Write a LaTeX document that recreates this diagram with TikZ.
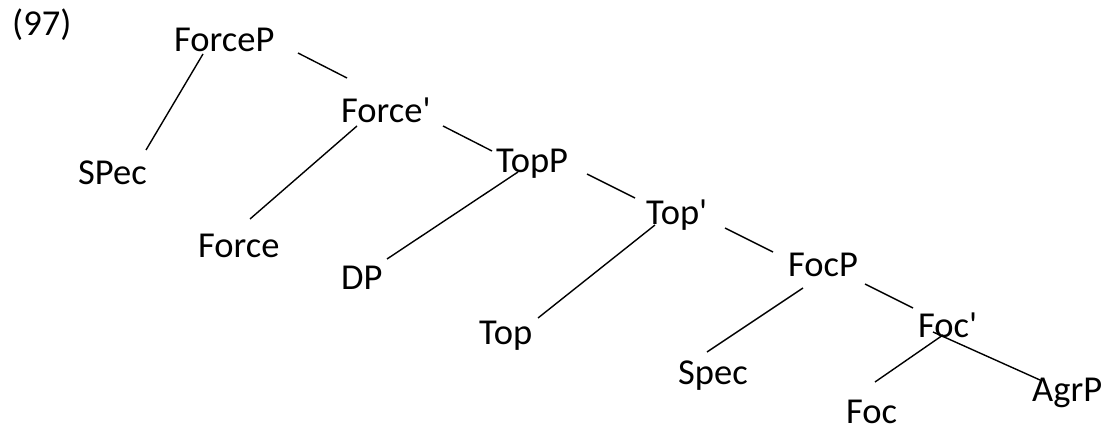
\documentclass[tikz,border=0pt]{standalone}
\usepackage{fontspec}
\setmainfont{Carlito}[Ligatures=TeXOff]
\begin{document}
\begin{tikzpicture}[x=1pt,y=-1pt,
  lbl/.style={anchor=base west,inner sep=0pt,font=\fontsize{36.5}{40}\selectfont},
  branch/.style={line width=1.4pt,black}]
\useasboundingbox (0,0) rectangle (1104,430);
\node[lbl] (num) at (12,36) {(97)};
\node[lbl] (ForceP) at (174,52) {ForceP};
\node[lbl] (SPec) at (78,185) {SPec};
\node[lbl] (Forcebar) at (341,123) {Force'};
\node[lbl] (Force) at (198,258) {Force};
\node[lbl] (TopP) at (496,173) {TopP};
\node[lbl] (DP) at (341,290) {DP};
\node[lbl] (Topbar) at (646,225) {Top'};
\node[lbl] (Top) at (479,345) {Top};
\node[lbl] (FocP) at (788,277) {FocP};
\node[lbl] (Spec) at (678,385) {Spec};
\node[lbl] (Focbar) at (918,338) {Foc'};
\node[lbl] (Foc) at (846,424) {Foc};
\node[lbl] (AgrP) at (1032,402) {AgrP};
% connector end points
\coordinate (a1) at (203,54);  \coordinate (a2) at (146,150);
\coordinate (b1) at (298,53);  \coordinate (b2) at (347,78);
\coordinate (c1) at (357,126); \coordinate (c2) at (250,219);
\coordinate (d1) at (443,126); \coordinate (d2) at (492,151);
\coordinate (e1) at (518,172); \coordinate (e2) at (387,259);
\coordinate (f1) at (587,174); \coordinate (f2) at (635,198);
\coordinate (g1) at (655,225); \coordinate (g2) at (538,318);
\coordinate (h1) at (725,228); \coordinate (h2) at (773,252);
\coordinate (i1) at (803,288); \coordinate (i2) at (707,352);
\coordinate (j1) at (865,284); \coordinate (j2) at (913,308);
\coordinate (k1) at (943,335); \coordinate (k2) at (875,382);
\coordinate (l1) at (933,332); \coordinate (l2) at (1040,380);
\draw[branch] (a1) -- (a2);
\draw[branch] (b1) -- (b2);
\draw[branch] (c1) -- (c2);
\draw[branch] (d1) -- (d2);
\draw[branch] (e1) -- (e2);
\draw[branch] (f1) -- (f2);
\draw[branch] (g1) -- (g2);
\draw[branch] (h1) -- (h2);
\draw[branch] (i1) -- (i2);
\draw[branch] (j1) -- (j2);
\draw[branch] (k1) -- (k2);
\draw[branch] (l1) -- (l2);
\end{tikzpicture}
\end{document}
